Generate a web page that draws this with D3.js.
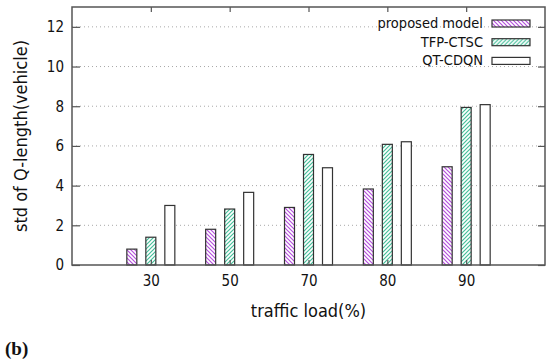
<!DOCTYPE html>
<html>
<head>
<meta charset="utf-8">
<title>std of Q-length</title>
<style>
  body { margin: 0; background: #fff; }
  svg text { font-family: "DejaVu Sans Condensed", "DejaVu Sans", sans-serif; fill: #111; }
  .grid line { stroke: #a8a8a8; stroke-width: 1; stroke-dasharray: 1,3; }
  .frame { fill: none; stroke: #555; stroke-width: 1.5; }
  .tick line { stroke: #555; stroke-width: 1.2; }
  .bar { stroke: #333; stroke-width: 1.2; }
</style>
</head>
<body>
<svg class="chart" width="550" height="360"></svg>
<script src="https://d3js.org/d3.v7.min.js"></script>
<script>
// data
var loads = ["30", "50", "70", "80", "90"];
var seriesNames = ["proposed model", "TFP-CTSC", "QT-CDQN"];
var proposed = [0.8, 1.8, 2.9, 3.83, 4.95];
var tfpCtsc  = [1.4, 2.82, 5.57, 6.08, 7.94];
var qtCdqn   = [3.0, 3.66, 4.9, 6.21, 8.08];
var yTicks = [0, 2, 4, 6, 8, 10, 12];

var series = [proposed, tfpCtsc, qtCdqn];
var fills = ["url(#hatchPurple)", "url(#hatchGreen)", "#fff"];

var margin = {left: 72, right: 5, top: 7, bottom: 95},
    width = 550 - margin.left - margin.right,
    height = 360 - margin.top - margin.bottom;

var svg = d3.select(".chart");

// hatch patterns
var defs = svg.append("defs");
function hatch(id, color, dir) {
  var p = defs.append("pattern")
      .attr("id", id)
      .attr("patternUnits", "userSpaceOnUse")
      .attr("width", 4).attr("height", 4);
  p.append("rect").attr("width", 4).attr("height", 4).attr("fill", "#fff");
  var d = dir > 0 ? "M-1,1 l2,-2 M0,4 l4,-4 M3,5 l2,-2" : "M-1,3 l2,2 M0,0 l4,4 M3,-1 l2,2";
  p.append("path").attr("d", d).attr("stroke", color).attr("stroke-width", 1.2);
}
hatch("hatchPurple", "#b550de", -1);
hatch("hatchGreen", "#45bf9a", 1);

var chart = svg.append("g")
    .attr("transform", "translate(" + margin.left + "," + margin.top + ")");

var x = d3.scaleLinear().domain([0, 6]).range([0, width]);
var y = d3.scaleLinear().domain([0, 13]).range([height, 0]);

// grid
chart.append("g").attr("class", "grid")
  .selectAll("line").data(yTicks.filter(function(d) { return d > 0; }))
  .enter().append("line")
    .attr("x1", 0).attr("x2", width)
    .attr("y1", function(d) { return y(d); })
    .attr("y2", function(d) { return y(d); });

// bars
var barW = 10, offs = [-19, 0, 19];
series.forEach(function(vals, s) {
  chart.append("g")
    .selectAll("rect").data(vals)
    .enter().append("rect")
      .attr("class", "bar")
      .attr("x", function(d, i) { return x(i + 1) + offs[s] - barW / 2; })
      .attr("y", function(d) { return y(d); })
      .attr("width", barW)
      .attr("height", function(d) { return height - y(d); })
      .attr("fill", fills[s]);
});

// axes (ticks inward, mirrored)
var yAxis = d3.axisLeft(y).tickValues(yTicks).tickSizeInner(-8).tickSizeOuter(0).tickPadding(8);
var gy = chart.append("g").attr("class", "axis").call(yAxis);
gy.select(".domain").remove();
gy.selectAll("text").style("font-size", "15px");

chart.append("g").attr("transform", "translate(" + width + ",0)")
  .call(d3.axisRight(y).tickValues(yTicks).tickSizeInner(-7).tickSizeOuter(0).tickFormat(""))
  .select(".domain").remove();

var xAxis = d3.axisBottom(x).tickValues([1, 2, 3, 4, 5])
    .tickFormat(function(d) { return loads[d - 1]; })
    .tickSizeInner(-5).tickSizeOuter(0).tickPadding(10);
var gx = chart.append("g").attr("transform", "translate(0," + height + ")").call(xAxis);
gx.select(".domain").remove();
gx.selectAll("text").style("font-size", "15px");

chart.append("g")
  .call(d3.axisTop(x).tickValues([1, 2, 3, 4, 5]).tickSizeInner(-5).tickSizeOuter(0).tickFormat(""))
  .select(".domain").remove();

chart.append("rect").attr("class", "frame")
  .attr("width", width).attr("height", height);

// axis titles
chart.append("text")
  .attr("x", width / 2).attr("y", height + 52)
  .attr("text-anchor", "middle")
  .style("font-size", "18px")
  .text("traffic load(%)");

chart.append("text")
  .attr("transform", "translate(-45," + (height / 2) + ") rotate(-90)")
  .attr("text-anchor", "middle")
  .style("font-size", "18px")
  .text("std of Q-length(vehicle)");

// legend
var legend = chart.append("g").attr("transform", "translate(" + (width - 53) + ",16)");
seriesNames.forEach(function(name, i) {
  var row = legend.append("g").attr("transform", "translate(0," + (i * 18.7) + ")");
  row.append("text").attr("x", -9).attr("y", 5)
    .attr("text-anchor", "end").style("font-size", "14.5px").text(name);
  row.append("rect").attr("class", "bar")
    .attr("x", 0).attr("y", -3).attr("width", 38).attr("height", 7)
    .attr("fill", fills[i]);
});

// panel label
svg.append("text")
  .attr("x", 5).attr("y", 355)
  .style("font-family", "'Liberation Serif', 'DejaVu Serif', serif")
  .style("font-size", "19px").style("font-weight", "bold")
  .text("(b)");
</script>
</body>
</html>
